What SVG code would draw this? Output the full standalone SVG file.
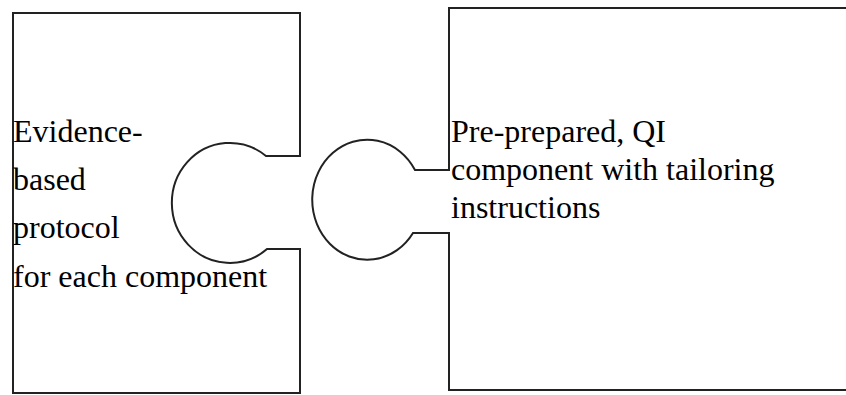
<svg xmlns="http://www.w3.org/2000/svg" width="846" height="395" viewBox="0 0 846 395">
<style>
.piece{fill:#ffffff;stroke:#222222;stroke-width:2}
.t{font-family:"Liberation Serif","Times New Roman",serif;font-size:32px;fill:#000000}
</style>
<rect width="846" height="395" fill="#ffffff"/>
<g id="piece-left">
<path class="piece" d="M13,13 H300 V156 H266 A58 60 0 1 0 267 249 H300 V393 H13 Z"/>
<text class="t" x="13" y="142">Evidence-</text>
<text class="t" x="13" y="190">based</text>
<text class="t" x="13" y="238">protocol</text>
<text class="t" x="13" y="287">for each component</text>
</g>
<g id="piece-right">
<path class="piece" d="M870,8 H449 V170 H415 A55 60 0 1 0 413 233 H449 V390 H870"/>
<text class="t" x="451" y="142">Pre-prepared, QI</text>
<text class="t" x="451" y="180">component with tailoring</text>
<text class="t" x="451" y="218">instructions</text>
</g>
<g id="connectors"></g>
</svg>
